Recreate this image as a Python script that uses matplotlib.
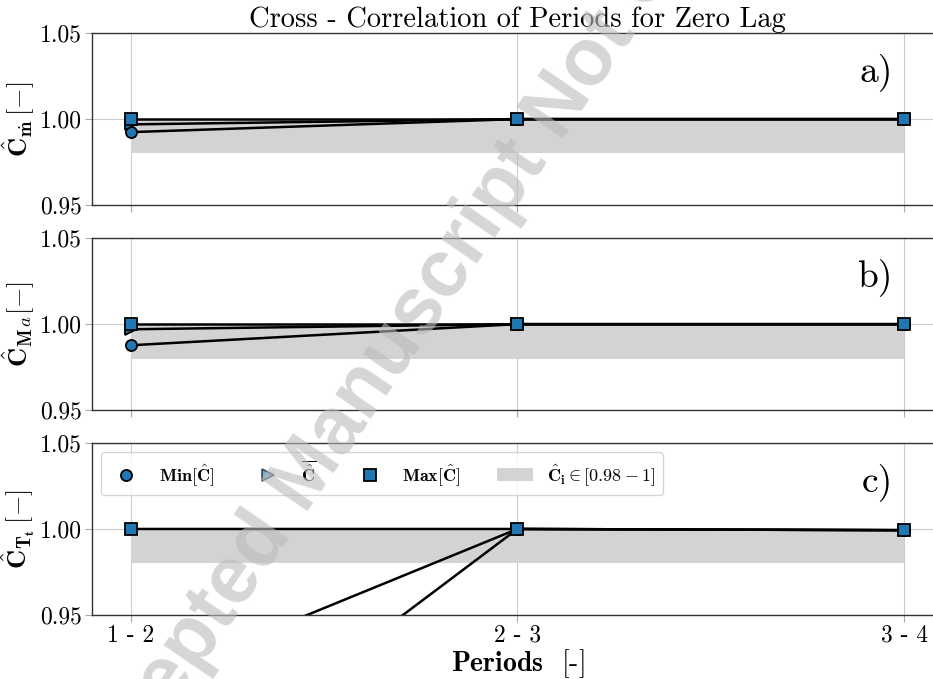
import matplotlib
matplotlib.use("Agg")
import matplotlib.pyplot as plt
from matplotlib.lines import Line2D
from matplotlib.patches import Patch

plt.rcParams['font.family'] = 'cmr10'
plt.rcParams['mathtext.fontset'] = 'cm'
plt.rcParams['axes.formatter.use_mathtext'] = True

# ---- data ----
periods = ["1 - 2", "2 - 3", "3 - 4"]
x = [0, 1, 2]

a_min = [0.9924, 1.0, 1.0]
a_mean = [0.9969, 1.0, 1.0]
a_max = [1.0, 1.0, 1.0]

b_min = [0.9877, 1.0, 1.0]
b_mean = [0.9970, 1.0, 1.0]
b_max = [1.0, 1.0, 1.0]

c_min = [0.831, 1.0, 0.9993]
c_mean = [0.908, 1.0, 0.9993]
c_max = [1.0, 1.0, 0.9993]

band_low, band_high = 0.98, 1.0
yticks = [0.95, 1.00, 1.05]
ytick_labels = ["0.95", "1.00", "1.05"]

ylabels = [r'$\mathbf{\hat{C}_{\dot{m}}}\,[-]$',
           r'$\mathbf{\hat{C}_{M}}_{\mathbf{}a}[-]$',
           r'$\mathbf{\hat{C}_{T_t}}\,[-]$']
panel_tags = ["a)", "b)", "c)"]
series = [(a_min, a_mean, a_max), (b_min, b_mean, b_max), (c_min, c_mean, c_max)]

blue = '#1f77b4'

fig = plt.figure(figsize=(9.33, 6.79), dpi=100)
lefts = 0.0986
width = 0.912
height = 0.2533
bottoms = [0.698, 0.396, 0.0943]
axes = [fig.add_axes([lefts, b, width, height]) for b in bottoms]

for i, ax in enumerate(axes):
    mn, me, mx = series[i]
    ax.fill_between(x, band_low, band_high, color='#d3d3d3', lw=0, zorder=1)
    ax.plot(x, mn, color='black', lw=1.8, marker='o', ms=8, mfc=blue, mec='black', mew=1.3, zorder=3)
    ax.plot(x, me, color='black', lw=1.8, marker='>', ms=8, mfc=blue, mec='black', mew=1.3, zorder=3)
    ax.plot(x, mx, color='black', lw=1.8, marker='s', ms=8, mfc=blue, mec='black', mew=1.3, zorder=3)
    ax.set_xlim(-0.1, 2.1)
    ax.set_ylim(0.95, 1.05)
    ax.set_yticks(yticks)
    ax.set_yticklabels(ytick_labels, fontsize=17)
    ax.set_xticks(x)
    if i == 2:
        ax.set_xticklabels(periods, fontsize=17)
    else:
        ax.set_xticklabels([])
    ax.grid(True, color='#cccccc', lw=0.8, zorder=0)
    ax.set_axisbelow(True)
    ax.tick_params(axis='both', color='#aaaaaa', length=5, width=0.8, pad=2)
    for s in ax.spines.values():
        s.set_color('#333333')
        s.set_linewidth(1.0)
    ax.set_ylabel(ylabels[i], fontsize=19, labelpad=2)
    ax.text(0.941, 0.775, panel_tags[i], transform=ax.transAxes, ha='right', va='center', fontsize=27)

axes[0].set_title("Cross - Correlation of Periods for Zero Lag", fontsize=20.5, pad=3)
axes[2].set_xlabel(r"$\mathbf{Periods}$  [-]", fontsize=20, labelpad=0)

handles = [
    Line2D([], [], ls='none', marker='o', ms=8, mfc=blue, mec='black', mew=1.3),
    Line2D([], [], ls='none', marker='>', ms=8, mfc=blue, mec='black', mew=1.3, alpha=0.6),
    Line2D([], [], ls='none', marker='s', ms=8, mfc=blue, mec='black', mew=1.3),
    Patch(facecolor='#d3d3d3', edgecolor='none'),
]
labels = [r'$\mathbf{Min[\hat{C}]}$', r'$\overline{\mathbf{\hat{C}}}$', r'$\mathbf{Max[\hat{C}]}$',
          r'$\mathbf{\hat{C}_i \in [0.98 - 1]}$']
axes[2].legend(handles, labels, loc='upper left', ncol=4, fontsize=13, columnspacing=2.0)

fig.text(0.509, 0.661, "Accepted Manuscript Not Copyedited", rotation=55.6,
         fontsize=58, fontweight='bold', family='Liberation Sans', color='#bbbbbb',
         alpha=0.6, ha='center', va='center', zorder=10)

fig.savefig("out.png", dpi=100)
